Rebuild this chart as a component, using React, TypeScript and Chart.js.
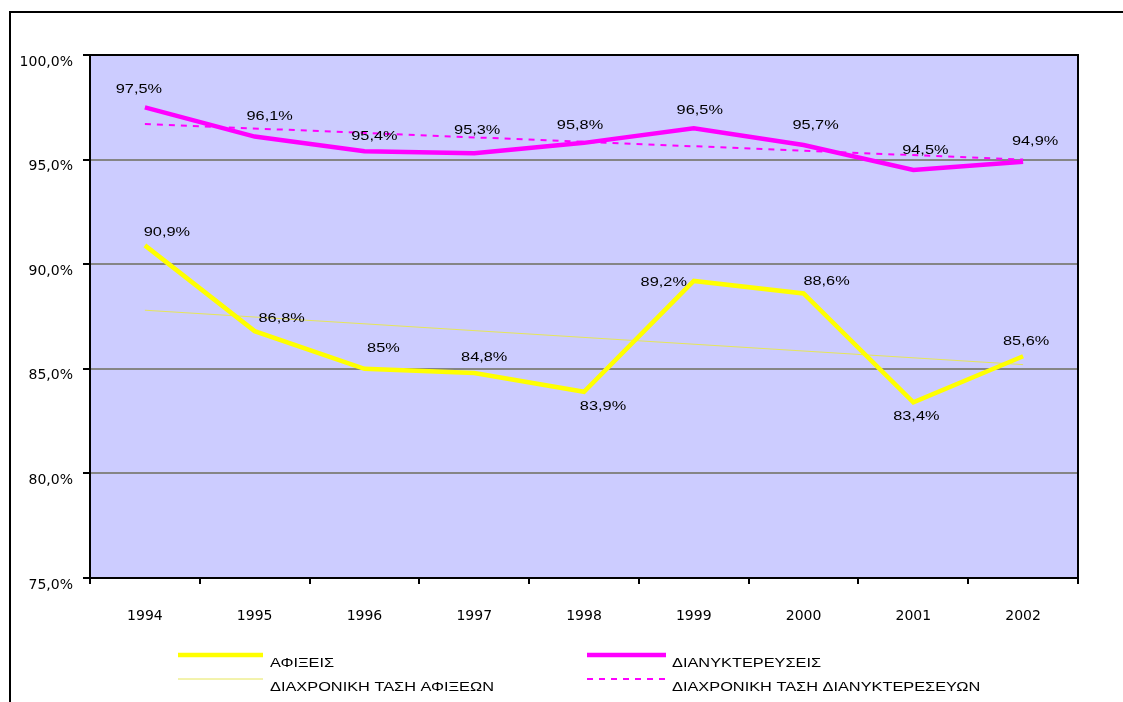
import React, { useEffect, useRef } from "react";
import { Chart, registerables } from "chart.js";

Chart.register(...registerables);

const years = ["1994", "1995", "1996", "1997", "1998", "1999", "2000", "2001", "2002"];
const arrivals = [90.9, 86.8, 85, 84.8, 83.9, 89.2, 88.6, 83.4, 85.6];
const overnights = [97.5, 96.1, 95.4, 95.3, 95.8, 96.5, 95.7, 94.5, 94.9];
const arrivalsTrend = [87.8, null, null, null, null, null, null, null, 85.2];
const overnightsTrend = [96.7, null, null, null, null, null, null, null, 95.0];
const arrivalLabels = ["90,9%", "86,8%", "85%", "84,8%", "83,9%", "89,2%", "88,6%", "83,4%", "85,6%"];
const overnightLabels = ["97,5%", "96,1%", "95,4%", "95,3%", "95,8%", "96,5%", "95,7%", "94,5%", "94,9%"];
const seriesNames = ["ΑΦΙΞΕΙΣ", "ΔΙΑΝΥΚΤΕΡΕΥΣΕΙΣ", "ΔΙΑΧΡΟΝΙΚΗ ΤΑΣΗ ΑΦΙΞΕΩΝ", "ΔΙΑΧΡΟΝΙΚΗ ΤΑΣΗ ΔΙΑΝΥΚΤΕΡΕΣΕΥΩΝ"];
const yMin = 75;
const yMax = 100;
const yStep = 5;

// label placement offsets (styling), relative to each point
const arrivalLabelOffsets = [
  [22, -13], [27, -13], [19, -21], [10, -16], [19, 14], [-30, 1], [23, -12], [3, 14], [3, -15],
];
const overnightLabelOffsets = [
  [-6, -18], [15, -20], [10, -15], [3, -23], [-4, -18], [6, -18], [12, -20], [12, -20], [12, -20],
];

const FONT = "'DejaVu Sans', sans-serif";
const TEXT_FONT = "13.5px 'Liberation Sans', Arial, sans-serif";
const STRETCH = 1.21;

function drawStretched(ctx: any, text: string, x: number, y: number, align: string) {
  ctx.save();
  ctx.translate(x, y);
  ctx.scale(STRETCH, 1);
  ctx.font = TEXT_FONT;
  ctx.fillStyle = "#000000";
  ctx.textAlign = align;
  ctx.textBaseline = "middle";
  ctx.fillText(text, 0, 0);
  ctx.restore();
}

const decorPlugin = {
  id: "decor",
  beforeDraw(chart: any) {
    const { ctx, chartArea: a } = chart;
    ctx.save();
    ctx.fillStyle = "#ffffff";
    ctx.fillRect(0, 0, chart.width, chart.height);
    ctx.strokeStyle = "#000000";
    ctx.lineWidth = 2;
    ctx.strokeRect(10, 12, chart.width + 20, chart.height + 20);
    ctx.fillStyle = "#CCCCFF";
    ctx.fillRect(a.left, a.top, a.right - a.left, a.bottom - a.top);
    ctx.restore();
  },
  beforeDatasetsDraw(chart: any) {
    const { ctx, chartArea: a } = chart;
    ctx.save();
    ctx.strokeStyle = "#000000";
    ctx.lineWidth = 2;
    ctx.strokeRect(a.left, a.top, a.right - a.left, a.bottom - a.top);
    ctx.restore();
  },
  afterDatasetsDraw(chart: any) {
    const { ctx } = chart;
    const sets: [number, string[], number[][]][] = [
      [0, arrivalLabels, arrivalLabelOffsets],
      [1, overnightLabels, overnightLabelOffsets],
    ];
    sets.forEach(([di, labels, offs]) => {
      const meta = chart.getDatasetMeta(di);
      meta.data.forEach((pt: any, i: number) => {
        drawStretched(ctx, labels[i], pt.x + offs[i][0], pt.y + offs[i][1], "center");
      });
    });
  },
  afterDraw(chart: any) {
    const { ctx } = chart;
    const ds = chart.data.datasets;
    const slots = [
      { x1: 178, x2: 263, ly: 655, tx: 270, ty: 663 },
      { x1: 587, x2: 666, ly: 655, tx: 672, ty: 663 },
      { x1: 178, x2: 263, ly: 679, tx: 270, ty: 687 },
      { x1: 587, x2: 666, ly: 679, tx: 672, ty: 687 },
    ];
    ds.forEach((d: any, i: number) => {
      const s = slots[i];
      ctx.save();
      ctx.beginPath();
      ctx.strokeStyle = d.borderColor;
      ctx.lineWidth = d.borderWidth;
      ctx.setLineDash(d.borderDash || []);
      ctx.moveTo(s.x1, s.ly);
      ctx.lineTo(s.x2, s.ly);
      ctx.stroke();
      ctx.restore();
      drawStretched(ctx, d.label, s.tx, s.ty, "left");
    });
  },
};

export default function App() {
  const ref = useRef<HTMLCanvasElement | null>(null);
  useEffect(() => {
    document.body.style.margin = "0";
    const canvas = ref.current;
    if (!canvas) return;
    const chart = new Chart(canvas, {
      type: "line",
      data: {
        labels: years,
        datasets: [
          {
            label: seriesNames[0],
            data: arrivals,
            borderColor: "#FFFF00",
            borderWidth: 4.5,
            pointRadius: 0,
            tension: 0,
          },
          {
            label: seriesNames[1],
            data: overnights,
            borderColor: "#FF00FF",
            borderWidth: 4.5,
            pointRadius: 0,
            tension: 0,
          },
          {
            label: seriesNames[2],
            data: arrivalsTrend,
            borderColor: "#E6E65A",
            borderWidth: 1,
            pointRadius: 0,
            spanGaps: true,
          },
          {
            label: seriesNames[3],
            data: overnightsTrend,
            borderColor: "#FF00FF",
            borderWidth: 2,
            borderDash: [6, 6],
            pointRadius: 0,
            spanGaps: true,
          },
        ],
      },
      options: {
        animation: false,
        responsive: false,
        devicePixelRatio: 1,
        layout: { padding: { top: 55, right: 45, left: 0, bottom: 0 } },
        plugins: {
          legend: { display: false },
          tooltip: { enabled: false },
        },
        scales: {
          x: {
            type: "category",
            offset: true,
            grid: {
              offset: true,
              drawOnChartArea: false,
              tickLength: 6,
              tickColor: "#000000",
              lineWidth: 2,
            },
            border: { color: "#000000", width: 2 },
            ticks: {
              color: "#000000",
              font: { family: FONT, size: 14 },
              padding: 24,
              maxRotation: 0,
            },
            afterFit(scale: any) {
              scale.height = 124;
            },
          },
          y: {
            min: yMin,
            max: yMax,
            grid: {
              color: (c: any) =>
                c.tick && (c.tick.value === yMin || c.tick.value === yMax) ? "rgba(0,0,0,0)" : "#858585",
              lineWidth: 2,
              tickColor: "#000000",
              tickLength: 7,
            },
            border: { color: "#000000", width: 2 },
            ticks: {
              stepSize: yStep,
              color: "#000000",
              font: { family: FONT, size: 14 },
              padding: 10,
              labelOffset: 7,
              callback: (v: any) => Number(v).toFixed(1).replace(".", ",") + "%",
            },
            afterFit(scale: any) {
              scale.width = 90;
            },
          },
        },
      },
      plugins: [decorPlugin],
    } as any);
    return () => chart.destroy();
  }, []);
  return <canvas ref={ref} width={1123} height={702} style={{ display: "block" }} />;
}
